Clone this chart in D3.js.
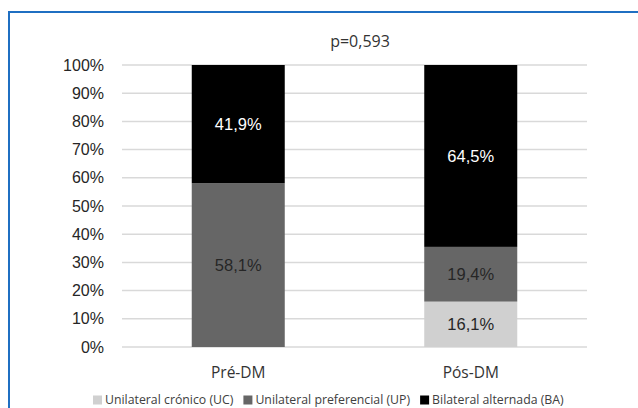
<!DOCTYPE html>
<html>
<head>
<meta charset="utf-8">
<script src="https://cdn.jsdelivr.net/npm/d3@7"></script>
<style>
  html, body { margin: 0; padding: 0; background: #fff; }
  svg { display: block; }
</style>
</head>
<body>
<svg id="chart" width="638" height="408"></svg>
<script>
// Distribution of the three groups before and after DM (percent of each column)
const categories = ["Pré-DM", "Pós-DM"];
const seriesNames = ["Unilateral crónico (UC)", "Unilateral preferencial (UP)", "Bilateral alternada (BA)"];
const ucValues = [0, 16.1];
const upValues = [58.1, 19.4];
const baValues = [41.9, 64.5];
const yTicks = [0, 10, 20, 30, 40, 50, 60, 70, 80, 90, 100];
const pValueLabel = "p=0,593";

const seriesValues = [ucValues, upValues, baValues];
const fills = ["#d0d0d0", "#666666", "#000000"];
const labelColors = ["#262626", "#262626", "#ffffff"];

const svg = d3.select("#chart");

// Frame around the chart
svg.append("rect")
  .attr("x", 9).attr("y", 12)
  .attr("width", 660).attr("height", 420)
  .attr("fill", "none")
  .attr("stroke", "#1f6fc2")
  .attr("stroke-width", 2);

const x = d3.scaleBand()
  .domain(categories)
  .range([122, 587])
  .paddingInner(0.6)
  .paddingOuter(0.3);

const y = d3.scaleLinear().domain([0, 100]).range([347, 65]);

// Gridlines
svg.append("g")
  .selectAll("line")
  .data(yTicks)
  .join("line")
  .attr("x1", 122).attr("x2", 587)
  .attr("y1", d => y(d)).attr("y2", d => y(d))
  .attr("stroke", "#d9d9d9")
  .attr("stroke-width", 1.5);

// Y axis labels
const yAxis = d3.axisLeft(y).tickValues(yTicks).tickFormat(d => d + "%").tickSize(0).tickPadding(0);
const yg = svg.append("g").attr("transform", "translate(104,0)").call(yAxis);
yg.select(".domain").remove();
yg.selectAll("text")
  .attr("font-family", "'Liberation Sans', Arial, sans-serif")
  .attr("font-size", 16)
  .attr("fill", "#262626");

// Stacked rows
const rows = categories.map((c, i) => {
  const r = { cat: c };
  seriesNames.forEach((s, j) => { r[s] = seriesValues[j][i]; });
  return r;
});
const stacked = d3.stack().keys(seriesNames)(rows);

const layers = svg.append("g")
  .selectAll("g")
  .data(stacked)
  .join("g")
  .attr("fill", (d, i) => fills[i]);

layers.selectAll("rect")
  .data(d => d)
  .join("rect")
  .attr("x", d => x(d.data.cat))
  .attr("width", x.bandwidth())
  .attr("y", d => y(d[1]))
  .attr("height", d => y(d[0]) - y(d[1]));

// Value labels inside segments
stacked.forEach((layer, i) => {
  svg.append("g")
    .selectAll("text")
    .data(layer.filter(d => d[1] - d[0] > 0))
    .join("text")
    .attr("x", d => x(d.data.cat) + x.bandwidth() / 2)
    .attr("y", d => (y(d[0]) + y(d[1])) / 2)
    .attr("dy", "0.36em")
    .attr("text-anchor", "middle")
    .attr("font-family", "'Liberation Sans', Arial, sans-serif")
    .attr("font-size", 16.5)
    .attr("fill", labelColors[i])
    .text(d => d3.format(".1f")(d[1] - d[0]).replace(".", ",") + "%");
});

// Category labels
const xAxis = d3.axisBottom(x).tickSize(0).tickPadding(0);
const xg = svg.append("g").attr("transform", "translate(0,367)").call(xAxis);
xg.select(".domain").remove();
xg.selectAll("text")
  .attr("font-family", "'Open Sans', sans-serif")
  .attr("font-size", 15.5)
  .attr("fill", "#333");

// p-value annotation
svg.append("text")
  .attr("x", 360).attr("y", 47)
  .attr("text-anchor", "middle")
  .attr("font-family", "'Open Sans', sans-serif")
  .attr("font-size", 16)
  .attr("fill", "#333")
  .text(pValueLabel);

// Legend
const legend = svg.append("g").attr("transform", "translate(0,400)");
const fontLegend = "'Open Sans', sans-serif";
let cursor = 93;
seriesNames.forEach((name, i) => {
  const item = legend.append("g");
  item.append("rect")
    .attr("x", cursor).attr("y", -4.5)
    .attr("width", 9).attr("height", 9)
    .attr("fill", fills[i]);
  const t = item.append("text")
    .attr("x", cursor + 12).attr("y", 0)
    .attr("dy", "0.35em")
    .attr("font-family", fontLegend)
    .attr("font-size", 12.3)
    .attr("fill", "#404040")
    .text(name);
  cursor += 12 + t.node().getComputedTextLength() + 10;
});
</script>
</body>
</html>
